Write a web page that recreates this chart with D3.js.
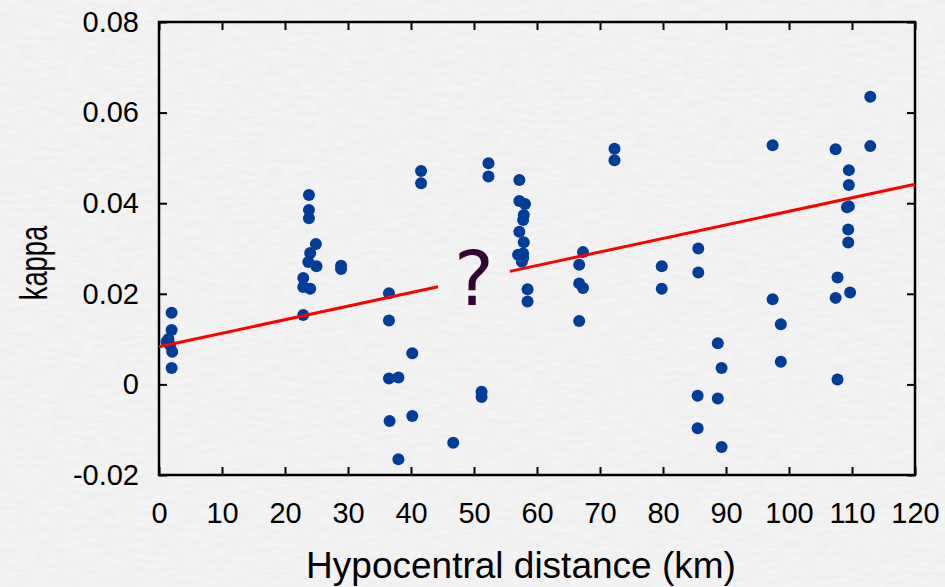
<!DOCTYPE html>
<html lang="en">
<head>
    <meta charset="UTF-8">
    <title>kappa vs hypocentral distance</title>
    <script src="https://d3js.org/d3.v7.min.js"></script>
    <style>
        body { margin: 0; background: #f2f2f2; }
        svg { display: block; }
        .tick text { font-family: "Liberation Sans", Arial, sans-serif; font-size: 29px; fill: #000; }
        .tick line { stroke: #000; stroke-width: 2px; }
        .title { font-family: "Liberation Sans", Arial, sans-serif; font-size: 37px; fill: #000; }
    </style>
</head>
<body>
    <svg width="945" height="587"></svg>
    <script>
        // hypocentral distance (km) and kappa
        const distance = [
            1.2, 1.5, 1.75, 2.0, 2.0, 2.1, 2.0,
            22.9, 22.9, 22.9, 24.0, 23.7, 24.0, 25.0, 24.9, 23.8, 23.8, 23.8,
            28.9, 28.9,
            36.5, 36.5, 36.5, 38.0, 36.6, 38.0, 40.2, 40.2, 41.6, 41.6,
            46.7, 51.2, 51.2, 52.3, 52.3,
            57.2, 57.2, 58.1, 57.9, 57.8, 57.2, 57.9, 57.8, 57.0, 57.8, 57.6, 58.5, 58.5,
            67.3, 66.7, 66.7, 67.3, 66.7,
            72.3, 72.3, 79.8, 79.8,
            85.6, 85.6, 85.5, 85.5,
            88.7, 89.3, 88.7, 89.3,
            97.4, 97.4, 98.7, 98.7,
            107.4, 107.7, 107.4, 107.7,
            109.5, 109.5, 109.2, 109.5, 109.4, 109.4, 109.7,
            112.9, 112.9
        ];
        const kappa = [
            0.0094, 0.0100, 0.0087, 0.0158, 0.0120, 0.0072, 0.0036,
            0.0153, 0.0215, 0.0235, 0.0211, 0.0270, 0.0290, 0.0261, 0.0310, 0.0367, 0.0385, 0.0418,
            0.0262, 0.0255,
            0.0201, 0.0141, 0.0013, 0.0015, -0.0081, -0.0165, 0.0069, -0.0070, 0.0471, 0.0444,
            -0.0129, -0.0016, -0.0028, 0.0488, 0.0459,
            0.0451, 0.0405, 0.0398, 0.0374, 0.0363, 0.0337, 0.0314, 0.0289, 0.0286, 0.0279, 0.0271, 0.0210, 0.0183,
            0.0292, 0.0264, 0.0223, 0.0213, 0.0140,
            0.0520, 0.0495, 0.0261, 0.0211,
            0.0300, 0.0247, -0.0025, -0.0097,
            0.0091, 0.0036, -0.0031, -0.0138,
            0.0528, 0.0188, 0.0133, 0.0050,
            0.0519, 0.0236, 0.0191, 0.0011,
            0.0473, 0.0440, 0.0391, 0.0393, 0.0342, 0.0313, 0.0203,
            0.0635, 0.0526
        ];

        // linear fit, drawn in two pieces around the "?"
        const fitIntercept = 0.0083;
        const fitSlope = 0.000299;
        const fitPieces = [[0, 44.3], [55.7, 120]];

        const xTicks = [0, 10, 20, 30, 40, 50, 60, 70, 80, 90, 100, 110, 120];
        const yTicks = [-0.02, 0, 0.02, 0.04, 0.06, 0.08];

        const margin = { top: 22, right: 30, bottom: 112, left: 159 };
        const width = 945 - margin.left - margin.right;
        const height = 587 - margin.top - margin.bottom;

        const svg = d3.select("svg");

        // faint paper texture behind everything
        const filt = svg.append("defs").append("filter").attr("id", "paper")
            .attr("x", 0).attr("y", 0).attr("width", "100%").attr("height", "100%");
        filt.append("feTurbulence").attr("type", "fractalNoise")
            .attr("baseFrequency", "0.06 0.25").attr("numOctaves", 2).attr("seed", 4);
        filt.append("feColorMatrix").attr("type", "matrix")
            .attr("values", "0 0 0 0 0.55  0 0 0 0 0.55  0 0 0 0 0.55  0 0 0 0.22 -0.06");
        svg.append("rect").attr("width", 945).attr("height", 587).attr("fill", "#f4f4f4");
        svg.append("rect").attr("width", 945).attr("height", 587).attr("filter", "url(#paper)");

        const g = svg.append("g").attr("transform", `translate(${margin.left},${margin.top})`);

        const x = d3.scaleLinear().domain([0, 120]).range([0, width]);
        const y = d3.scaleLinear().domain([-0.02, 0.08]).range([height, 0]);

        const fmtY = d => d === 0 ? "0" : d3.format(".2f")(d).replace("\u2212", "-");

        // axes, ticks pointing inwards on all four sides
        g.append("g").attr("transform", `translate(0,${height})`)
            .call(d3.axisBottom(x).tickValues(xTicks).tickSizeInner(-8).tickSizeOuter(0).tickPadding(27));
        g.append("g")
            .call(d3.axisLeft(y).tickValues(yTicks).tickFormat(fmtY).tickSizeInner(-8).tickSizeOuter(0).tickPadding(20));
        g.append("g")
            .call(d3.axisTop(x).tickValues(xTicks).tickFormat("").tickSizeInner(-8).tickSizeOuter(0));
        g.append("g").attr("transform", `translate(${width},0)`)
            .call(d3.axisRight(y).tickValues(yTicks).tickFormat("").tickSizeInner(-8).tickSizeOuter(0));
        g.selectAll(".domain").remove();
        g.selectAll(".tick text").attr("font-size", null).attr("font-family", null);

        g.append("rect")
            .attr("width", width).attr("height", height)
            .attr("fill", "none").attr("stroke", "#000").attr("stroke-width", 2.5);

        // points
        g.selectAll(".pt")
            .data(d3.range(distance.length))
            .enter().append("circle")
            .attr("class", "pt")
            .attr("cx", i => x(distance[i]))
            .attr("cy", i => y(kappa[i]))
            .attr("r", 6)
            .attr("fill", "#003c9a");

        // fit line
        g.selectAll(".fit")
            .data(fitPieces)
            .enter().append("line")
            .attr("class", "fit")
            .attr("x1", d => x(d[0]))
            .attr("y1", d => y(fitIntercept + fitSlope * d[0]))
            .attr("x2", d => x(d[1]))
            .attr("y2", d => y(fitIntercept + fitSlope * d[1]))
            .attr("stroke", "#ff0000")
            .attr("stroke-width", 3);

        g.append("text")
            .attr("x", x(50)).attr("y", 283)
            .attr("text-anchor", "middle")
            .style("font-family", "DejaVu Sans, sans-serif")
            .style("font-size", "75px")
            .style("fill", "#330033")
            .text("?");

        // axis titles
        svg.append("text").attr("class", "title")
            .attr("x", margin.left + width / 2 - 16).attr("y", 578)
            .attr("text-anchor", "middle")
            .text("Hypocentral distance (km)");
        svg.append("text").attr("class", "title")
            .attr("transform", "translate(47,263) rotate(-90) scale(0.72,1)")
            .style("font-size", "38px")
            .attr("text-anchor", "middle")
            .text("kappa");
    </script>
</body>
</html>
